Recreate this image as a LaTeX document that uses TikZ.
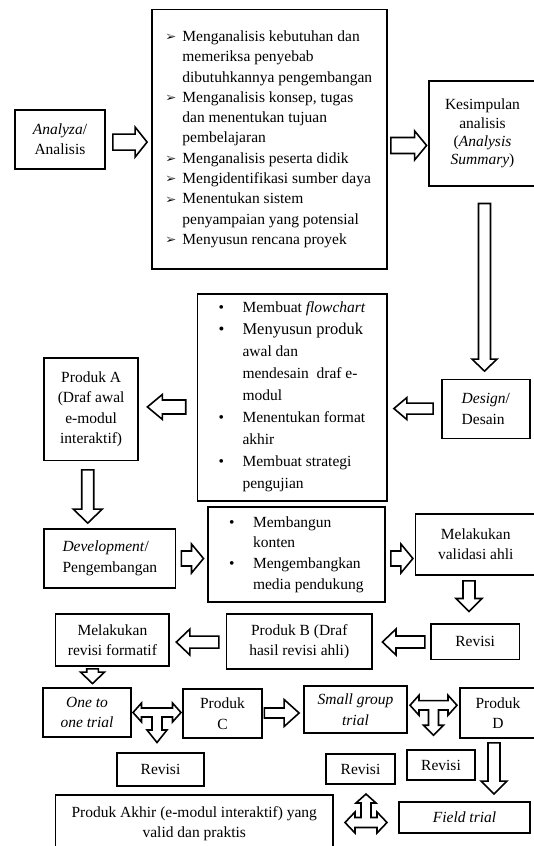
\documentclass[tikz,border=0pt]{standalone}
\usepackage{fontspec}
\setmainfont{Liberation Serif}
\usepackage{pifont}
\usetikzlibrary{calc}

\newcommand\arrb{\makebox[16pt][l]{\raisebox{0.6pt}{\fontsize{10.5}{10.5}\selectfont\ding{226}}}}
\newcommand\indA{\hspace*{16pt}}
\newcommand\bltB{\makebox[24pt][l]{\textbullet}}
\newcommand\indB{\hspace*{24pt}}

% horizontal block arrow: start, tip, shaft half, head half, head length
\newcommand\harr[5]{\draw[barrow] let \p1=#1, \p2=#2, \n1={sign(\x2-\x1)} in
  (\x1,{\y1+#3}) -- ({\x2-(\n1)*#5},{\y1+#3}) -- ({\x2-(\n1)*#5},{\y1+#4}) -- (\x2,\y1)
  -- ({\x2-(\n1)*#5},{\y1-#4}) -- ({\x2-(\n1)*#5},{\y1-#3}) -- (\x1,{\y1-#3}) -- cycle;}
% vertical block arrow
\newcommand\varr[5]{\draw[barrow] let \p1=#1, \p2=#2, \n1={sign(\y2-\y1)} in
  ({\x1-#3},\y1) -- ({\x1-#3},{\y2-(\n1)*#5}) -- ({\x1-#4},{\y2-(\n1)*#5}) -- (\x1,\y2)
  -- ({\x1+#4},{\y2-(\n1)*#5}) -- ({\x1+#3},{\y2-(\n1)*#5}) -- ({\x1+#3},\y1) -- cycle;}
% left-right arrow with stem down: center, L, s, h, hl, sw, ds, dt, hd
\newcommand\tarrdown[9]{\draw[barrow,shift={#1}]
  ({-#2},0) -- ({-#2+#5},{-#4}) -- ({-#2+#5},{-#3}) -- ({#2-#5},{-#3}) -- ({#2-#5},{-#4})
  -- ({#2},0) -- ({#2-#5},{#4}) -- ({#2-#5},{#3}) -- ({#6},{#3}) -- ({#6},{#7}) -- ({#9},{#7})
  -- (0,{#8}) -- ({-#9},{#7}) -- ({-#6},{#7}) -- ({-#6},{#3}) -- ({-#2+#5},{#3}) -- ({-#2+#5},{#4}) -- cycle;}
% left-right arrow with stem up (ds, dt negative)
\newcommand\tarrup[9]{\draw[barrow,shift={#1}]
  ({-#2},0) -- ({-#2+#5},{-#4}) -- ({-#2+#5},{-#3}) -- ({-#6},{-#3}) -- ({-#6},{#7}) -- ({-#9},{#7})
  -- (0,{#8}) -- ({#9},{#7}) -- ({#6},{#7}) -- ({#6},{-#3}) -- ({#2-#5},{-#3}) -- ({#2-#5},{-#4})
  -- ({#2},0) -- ({#2-#5},{#4}) -- ({#2-#5},{#3}) -- ({-#2+#5},{#3}) -- ({-#2+#5},{#4}) -- cycle;}

\begin{document}
\begin{tikzpicture}[x=1pt,y=-1pt,
  box/.style={draw, line width=1.8pt, inner sep=0pt, align=center,
    font=\fontsize{15.5}{20.5}\selectfont},
  barrow/.style={draw, fill=white, line width=1.6pt, line join=miter}]
\useasboundingbox (0,0) rectangle (534,846);

% nodes
\node[box, minimum width=89.3, minimum height=58.9] (analyza) at (59.95,139.15)
  {\textit{Analyza}/\\Analisis};
\node[box, align=left, minimum width=234.6, minimum height=259.5,
  font=\fontsize{15.5}{20.3}\selectfont] (anbox) at (269.3,139.25)
  {\arrb Menganalisis kebutuhan dan\\
   \indA memeriksa penyebab\\
   \indA dibutuhkannya pengembangan\\
   \arrb Menganalisis konsep, tugas\\
   \indA dan menentukan tujuan\\
   \indA pembelajaran\\
   \arrb Menganalisis peserta didik\\
   \arrb Mengidentifikasi sumber daya\\
   \arrb Menentukan sistem\\
   \indA penyampaian yang potensial\\
   \arrb Menyusun rencana proyek};
\node[box, minimum width=107, minimum height=105, font=\fontsize{15.5}{18.3}\selectfont]
  (kes) at (482.5,133.5) {Kesimpulan\\analisis\\(\textit{Analysis}\\\textit{Summary})};
\node[box, align=left, minimum width=87.6, minimum height=58.9] (design) at (485.8,408.95)
  {\textit{Design}/\\Desain};
\node[box, align=left, minimum width=189.1, minimum height=207.1,
  font=\fontsize{15.5}{22}\selectfont] (desbox) at (292.05,397.15)
  {\bltB Membuat \textit{flowchart}\\
   \fontsize{16.5}{22}\selectfont\bltB Menyusun produk\\
   \indB awal dan\\
   \indB mendesain\ \ draf e-\\
   \indB modul\\
   \fontsize{15.5}{22}\selectfont\bltB Menentukan format\\
   \indB akhir\\
   \bltB Membuat strategi\\
   \indB pengujian};
\node[box, minimum width=93.7, minimum height=102.5] (produkA) at (91.15,409.25)
  {Produk A\\(Draf awal\\e-modul\\interaktif)};
\node[box, align=left, minimum width=131.1, minimum height=59] (dev) at (109.85,558.5)
  {\textit{Development}/\\Pengembangan};
\node[box, align=left, minimum width=177.1, minimum height=95,
  font=\fontsize{15.5}{20.8}\selectfont] (devbox) at (296.35,554.5)
  {\bltB Membangun\\
   \indB konten\\
   \bltB Mengembangkan\\
   \indB media pendukung};
\node[box, minimum width=120.5, minimum height=61.4] (valid) at (475.75,544.3)
  {Melakukan\\validasi ahli};
\node[box, minimum width=88.5, minimum height=35.4] (revisiA) at (475.15,641.7) {Revisi};
\node[box, minimum width=145.5, minimum height=55.3] (produkB) at (299.25,641.65)
  {Produk B (Draf\\hasil revisi ahli)};
\node[box, minimum width=113.8, minimum height=52] (formatif) at (112.4,640)
  {Melakukan\\revisi formatif};
\node[box, minimum width=88, minimum height=49] (onetoone) at (87,712.5)
  {\textit{One to}\\\textit{one trial}};
\node[box, minimum width=79, minimum height=49] (produkC) at (222.5,713.5) {Produk\\C};
\node[box, minimum width=103, minimum height=47] (smallg) at (355.5,709.5)
  {\textit{Small group}\\\textit{trial}};
\node[box, minimum width=76, minimum height=50] (produkD) at (498,713) {Produk\\D};
\node[box, minimum width=87, minimum height=33] (revisi1) at (160.5,769.5) {Revisi};
\node[box, minimum width=69, minimum height=30] (revisi2) at (360.5,769) {Revisi};
\node[box, minimum width=68, minimum height=30] (revisi3) at (441,765) {Revisi};
\node[box, minimum width=131, minimum height=31] (field) at (464.5,817.5) {\textit{Field trial}};
\node[box, minimum width=277.5, minimum height=57] (akhir) at (194.25,823.5)
  {Produk Akhir (e-modul interaktif) yang\\valid dan praktis};

% block arrows
\harr{($(analyza.east)+(7.4,2.9)$)}{($(anbox.west)+(-4,2.9)$)}{8}{15}{12}
\harr{($(anbox.east)+(3.4,6.2)$)}{($(kes.west)+(-1.5,6.2)$)}{8}{14.5}{12}
\varr{($(kes.south)+(2,16.6)$)}{($(design.north)+(-1.3,-7.5)$)}{6}{12.5}{12}
\harr{($(design.west)+(-8,-0.4)$)}{($(desbox.east)+(6.4,-0.4)$)}{5.5}{11}{13}
\harr{($(desbox.west)+(-10.9,9.8)$)}{($(produkA.east)+(8.5,9.8)$)}{7}{12.5}{15}
\varr{($(produkA.south)+(-3.4,8.5)$)}{($(dev.north)+(0,-5)$)}{6}{14.5}{14}
\harr{($(dev.east)+(5.1,0)$)}{($(devbox.west)+(-3.4,0)$)}{7.5}{14.5}{12}
\harr{($(devbox.east)+(5.1,4)$)}{($(valid.west)+(-1.7,4)$)}{7.5}{14.5}{12}
\varr{($(valid.south)+(-6.75,5)$)}{($(revisiA.north)+(-6.1,-11.6)$)}{6}{13}{13}
\harr{($(revisiA.west)+(-5.2,0.3)$)}{($(produkB.east)+(9.5,0.3)$)}{6}{13}{13.6}
\harr{($(produkB.west)+(-6.8,0.4)$)}{($(formatif.east)+(6.1,0.4)$)}{6}{13}{13.6}
\varr{($(formatif.south)+(-19.9,2)$)}{($(onetoone.north)+(5.5,-3.5)$)}{5.8}{12}{11.5}
\harr{($(produkC.east)+(1.5,-0.5)$)}{($(smallg.west)+(-4,-0.5)$)}{5}{13.5}{15}
\varr{($(produkD.south)+(-4,4)$)}{($(field.north)+(29.5,-7)$)}{6}{13}{13}

\coordinate (t1) at ($(onetoone.east)!0.5!(produkC.west)+(0,-0.5)$);
\coordinate (t2) at ($(smallg.east)!0.5!(produkD.west)+(0,-6)$);
\coordinate (t3) at ($(akhir.east)!0.5!(field.west)+(0,2)$);
\tarrdown{(t1)}{24}{4.5}{9.5}{8.5}{5}{17.5}{30}{10}
\tarrdown{(t2)}{23.5}{4.7}{10}{9}{5}{20}{30}{10}
\tarrup{(t3)}{21}{5}{10.5}{10}{5}{-19.5}{-28.5}{10}
\end{tikzpicture}
\end{document}
